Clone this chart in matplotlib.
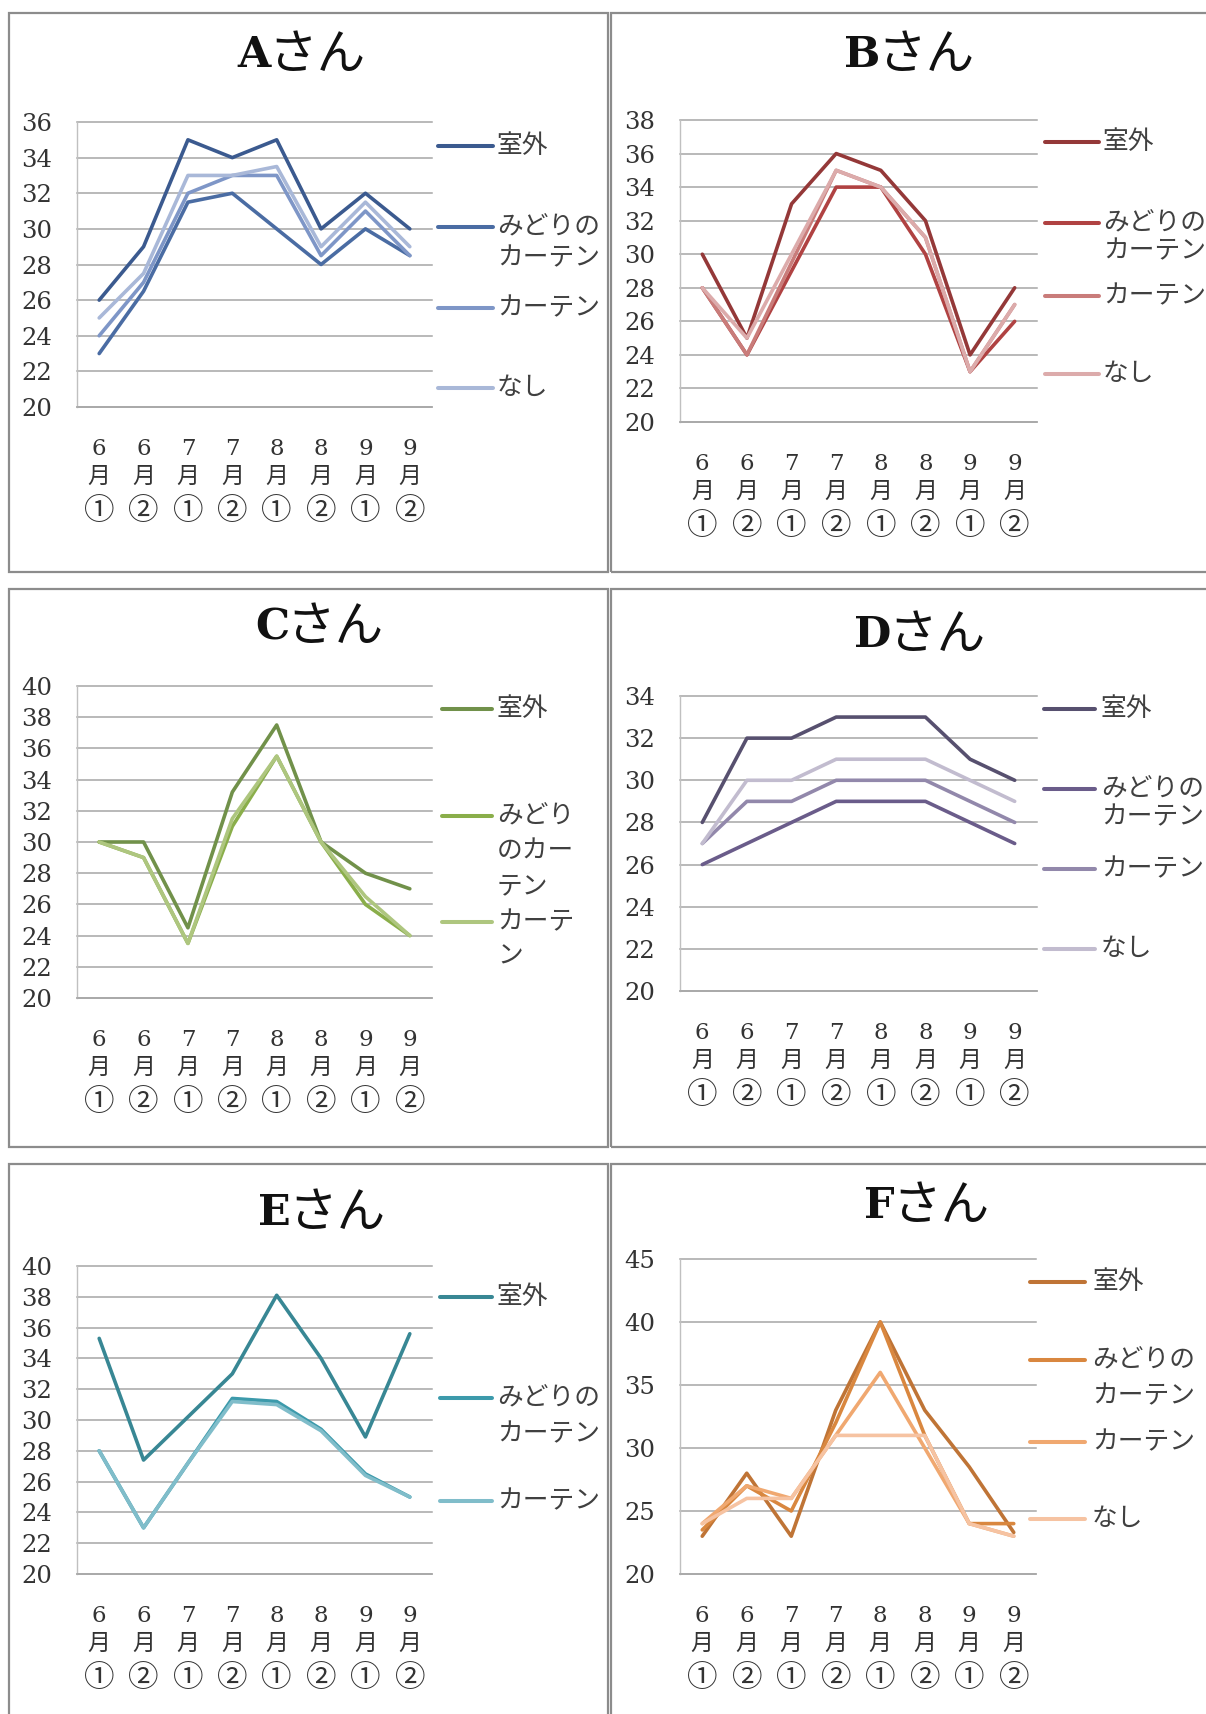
import matplotlib
matplotlib.use("Agg")
import matplotlib.pyplot as plt
from matplotlib.lines import Line2D
from matplotlib.patches import Rectangle

W, H = 1206, 1714
SERIF_JP = ["DejaVu Serif", "Noto Sans CJK JP"]
JP = ["Noto Sans CJK JP", "DejaVu Sans"]

# ---- data ----
x_labels = ["6\n月\n①", "6\n月\n②", "7\n月\n①", "7\n月\n②",
            "8\n月\n①", "8\n月\n②", "9\n月\n①", "9\n月\n②"]

names4 = ["室外", "みどりの\nカーテン", "カーテン", "なし"]
names3 = ["室外", "みどりの\nカーテン", "カーテン"]
names3_c = ["室外", "みどり\nのカー\nテン", "カーテ\nン"]

a_outdoor = [26, 29, 35, 34, 35, 30, 32, 30]
a_green = [23, 26.5, 31.5, 32, 30, 28, 30, 28.5]
a_curtain = [24, 27, 32, 33, 33, 28.5, 31, 28.5]
a_none = [25, 27.5, 33, 33, 33.5, 29, 31.5, 29]

b_outdoor = [30, 25, 33, 36, 35, 32, 24, 28]
b_green = [28, 24, 29, 34, 34, 30, 23, 26]
b_curtain = [28, 24, 29.5, 35, 34, 31, 23, 27]
b_none = [28, 25, 30, 35, 34, 31, 23, 27]

c_outdoor = [30, 30, 24.5, 33.2, 37.5, 30, 28, 27]
c_green = [30, 29, 23.5, 31, 35.5, 30, 26, 24]
c_curtain = [30, 29, 23.5, 31.5, 35.5, 30, 26.5, 24]

d_outdoor = [28, 32, 32, 33, 33, 33, 31, 30]
d_green = [26, 27, 28, 29, 29, 29, 28, 27]
d_curtain = [27, 29, 29, 30, 30, 30, 29, 28]
d_none = [27, 30, 30, 31, 31, 31, 30, 29]

e_outdoor = [35.3, 27.4, 30.2, 33, 38.1, 34, 28.9, 35.6]
e_green = [28, 23, 27.2, 31.4, 31.2, 29.4, 26.5, 25]
e_curtain = [28, 23, 27.2, 31.2, 31.0, 29.3, 26.4, 25]

f_outdoor = [23, 28, 23, 33, 40, 33, 28.5, 23.3]
f_green = [23.5, 27, 25, 32, 40, 31, 24, 24]
f_curtain = [24, 27, 26, 31, 36, 30, 24, 23]
f_none = [24, 26, 26, 31, 31, 31, 24, 23]

# panel layout: title, frame, axes box (px), y range, series, colours, legend
panels = [
    dict(title="A", cx=301, ty=55, frame=(9, 13, 608, 572), box=(77, 122, 432, 407),
         yr=(20, 36, 2), data=[a_outdoor, a_green, a_curtain, a_none], names=names4,
         colors=["#3b5a8f", "#4a6ca3", "#7e96c7", "#a9b8d8"],
         leg=(438, 493, 497, [146, 227, 308, 388], 31)),
    dict(title="B", cx=910, ty=55, frame=(611, 13, 1212, 572), box=(680, 120, 1037, 422),
         yr=(20, 38, 2), data=[b_outdoor, b_green, b_curtain, b_none], names=names4,
         colors=["#943838", "#b04242", "#c97c7a", "#dcabab"],
         leg=(1045, 1099, 1103, [142, 223, 296, 374], 28)),
    dict(title="C", cx=319, ty=627, frame=(9, 589, 608, 1147), box=(77, 686, 432, 998),
         yr=(20, 40, 2), data=[c_outdoor, c_green, c_curtain], names=names3_c,
         colors=["#71914a", "#8aae4a", "#aec67f"],
         leg=(442, 492, 497, [709, 816, 922], 35)),
    dict(title="D", cx=921, ty=635, frame=(611, 589, 1212, 1147), box=(680, 696, 1037, 991),
         yr=(20, 34, 2), data=[d_outdoor, d_green, d_curtain, d_none], names=names4,
         colors=["#57506f", "#6a5c8a", "#9288ab", "#c2bccf"],
         leg=(1044, 1095, 1101, [709, 789, 869, 949], 28)),
    dict(title="E", cx=321, ty=1213, frame=(9, 1164, 608, 1720), box=(77, 1266, 432, 1574),
         yr=(20, 40, 2), data=[e_outdoor, e_green, e_curtain], names=names3,
         colors=["#388794", "#3c9aab", "#80bdca"],
         leg=(440, 492, 497, [1297, 1398, 1501], 36)),
    dict(title="F", cx=925, ty=1206, frame=(611, 1164, 1212, 1720), box=(680, 1259, 1036, 1574),
         yr=(20, 45, 5), data=[f_outdoor, f_green, f_curtain, f_none], names=names4,
         colors=["#bf7436", "#d9873f", "#f0a870", "#f6c3a2"],
         leg=(1030, 1085, 1092, [1282, 1360, 1442, 1519], 36)),
]

fig = plt.figure(figsize=(W / 100, H / 100), dpi=100)
fig.patch.set_facecolor("white")


def fx(x):
    return x / W


def fy(y):
    return 1 - y / H


for p in panels:
    l, t, r, b = p["frame"]
    fig.add_artist(Rectangle((fx(l), fy(b)), fx(r) - fx(l), fy(t) - fy(b),
                             transform=fig.transFigure, fill=False,
                             edgecolor="#8c8c8c", lw=1.6))

    l, t, r, b = p["box"]
    ax = fig.add_axes([fx(l), fy(b), fx(r) - fx(l), fy(t) - fy(b)])
    ymin, ymax, step = p["yr"]
    xs = range(len(x_labels))
    for vals, c in zip(p["data"], p["colors"]):
        ax.plot(xs, vals, color=c, lw=2.6, solid_joinstyle="round",
                solid_capstyle="round", clip_on=False, zorder=3)

    ax.set_xlim(-0.5, len(x_labels) - 0.5)
    ax.set_ylim(ymin, ymax)
    ax.set_yticks(range(ymin, ymax + 1, step))
    ax.set_xticks(list(xs))
    # month part as tick labels, the circled number as a third row
    ax.set_xticklabels(["\n".join(s.split("\n")[:2]) for s in x_labels],
                       family=SERIF_JP, fontsize=16.5, linespacing=1.4,
                       color="#333333")
    for i, s in enumerate(x_labels):
        ax.annotate(s.split("\n")[2], xy=(i, 0), xycoords=("data", "axes fraction"),
                    xytext=(0, -75), textcoords="offset points", ha="center",
                    va="center", family=JP, fontsize=22, color="#333333")
    for lab in ax.get_yticklabels():
        lab.set_family(SERIF_JP)
        lab.set_fontsize(17.5)
        lab.set_color("#333333")
    ax.tick_params(axis="x", length=0, pad=22)
    ax.tick_params(axis="y", length=0, pad=18)
    ax.yaxis.grid(True, color="#a6a6a6", lw=1.1)
    for gl in ax.get_ygridlines():
        gl.set_clip_on(False)
    ax.set_axisbelow(True)
    for s in ["top", "right"]:
        ax.spines[s].set_visible(False)
    ax.spines["left"].set_color("#c0c0c0")
    ax.spines["left"].set_linewidth(1.0)
    ax.spines["bottom"].set_color("#a6a6a6")
    ax.spines["bottom"].set_linewidth(1.1)

    # title: bold serif letter + さん
    fig.text(fx(p["cx"] - 30), fy(p["ty"]), p["title"], family=SERIF_JP,
             fontweight="bold", fontsize=31, ha="right", va="center", color="#111111")
    fig.text(fx(p["cx"] - 33), fy(p["ty"]), "さん", family=JP,
             fontsize=35, ha="left", va="center", color="#111111")

    # legend drawn by hand, Excel places entries unevenly
    x0, x1, tx, ys, sp = p["leg"]
    for name, c, y in zip(p["names"], p["colors"], ys):
        fig.add_artist(Line2D([fx(x0), fx(x1)], [fy(y), fy(y)],
                              transform=fig.transFigure, color=c, lw=2.9,
                              solid_capstyle="round"))
        for i, part in enumerate(name.split("\n")):
            fig.text(fx(tx), fy(y + i * sp), part, family=JP, fontsize=18.5,
                     ha="left", va="center", color="#404040")

fig.savefig("out.png", dpi=100)
